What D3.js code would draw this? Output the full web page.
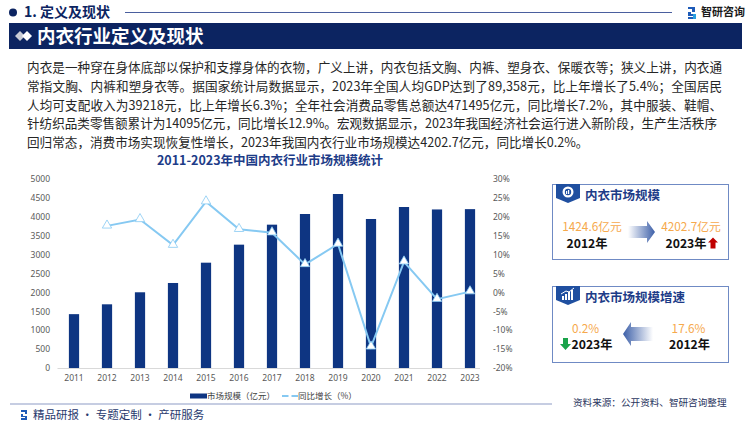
<!DOCTYPE html>
<html><head><meta charset="utf-8">
<script src="https://cdn.jsdelivr.net/npm/d3@7/dist/d3.min.js"></script>
<style>
html,body{margin:0;padding:0;background:#fff;}
svg{display:block;font-family:"Noto Sans CJK SC","Noto Sans",sans-serif;}
</style></head>
<body>
<svg id="c" width="750" height="422"></svg>
<script>
const years = ["2011","2012","2013","2014","2015","2016","2017","2018","2019","2020","2021","2022","2023"];
const marketSize = [1424.6,1685,2003,2249,2786,3263,3792,4074,4603,3942,4259,4194.3,4202.7];
const growthYears = ["2012","2013","2014","2015","2016","2017","2018","2019","2020","2021","2022","2023"];
const growth = [17.6,19.3,12.5,24.0,16.7,15.8,7.4,12.8,-14.4,8.1,-1.8,0.2];
const leftTicks = [0,500,1000,1500,2000,2500,3000,3500,4000,4500,5000];
const rightTicks = [-20,-15,-10,-5,0,5,10,15,20,25,30];
const paragraph = [
 "内衣是一种穿在身体底部以保护和支撑身体的衣物，广义上讲，内衣包括文胸、内裤、塑身衣、保暖衣等；狭义上讲，内衣通",
 "常指文胸、内裤和塑身衣等。据国家统计局数据显示，2023年全国人均GDP达到了89,358元，比上年增长了5.4%；全国居民",
 "人均可支配收入为39218元，比上年增长6.3%；全年社会消费品零售总额达471495亿元，同比增长7.2%，其中服装、鞋帽、",
 "针纺织品类零售额累计为14095亿元，同比增长12.9%。宏观数据显示，2023年我国经济社会运行进入新阶段，生产生活秩序",
 "回归常态，消费市场实现恢复性增长，2023年我国内衣行业市场规模达4202.7亿元，同比增长0.2%。"
];
const chartTitle = "2011-2023年中国内衣行业市场规模统计";
const legendLabels = ["市场规模（亿元）","同比增长（%）"];

const svg = d3.select("#c");
const NAVY = "#0c2461", BAR = "#0e3582", LINE = "#86c9f2";

// defs
const defs = svg.append("defs");
const gR = defs.append("linearGradient").attr("id","gR").attr("x1","0").attr("x2","1").attr("y1","0").attr("y2","0");
gR.append("stop").attr("offset","0").attr("stop-color","#3c5fa8").attr("stop-opacity",0);
gR.append("stop").attr("offset","1").attr("stop-color","#3c5fa8").attr("stop-opacity",1);
const gL = defs.append("linearGradient").attr("id","gL").attr("x1","1").attr("x2","0").attr("y1","0").attr("y2","0");
gL.append("stop").attr("offset","0").attr("stop-color","#3c5fa8").attr("stop-opacity",0);
gL.append("stop").attr("offset","1").attr("stop-color","#3c5fa8").attr("stop-opacity",1);

// Header
svg.append("circle").attr("cx",13).attr("cy",12.5).attr("r",4).attr("fill",NAVY);
svg.append("text").attr("x",24).attr("y",12.5).attr("dy","0.35em").attr("font-size",14).attr("font-weight","bold").attr("fill",NAVY).text("1. 定义及现状");
svg.append("line").attr("x1",125).attr("x2",672).attr("y1",12.5).attr("y2",12.5).attr("stroke","#4a5f9e").attr("stroke-width",1);
// logo
svg.append("path").attr("d","M688,7 h7 v5 h-4 v2 h4 v5 h-7 v-2 h5 v-1 h-5 v-4 h4 v-3 h-4 z").attr("fill","#1e5bb8");
svg.append("rect").attr("x",693).attr("y",14).attr("width",3).attr("height",5).attr("fill","#2aa0e0");
svg.append("text").attr("x",701).attr("y",12.5).attr("dy","0.35em").attr("font-size",11).attr("font-weight","bold").attr("fill","#1a1a1a").text("智研咨询");

// Banner
svg.append("rect").attr("x",9).attr("y",23).attr("width",733).attr("height",26).attr("fill",NAVY);
svg.append("path").attr("d","M20,31 L25,36 L20,41 L15,36 Z").attr("fill","#c8ccd6");
svg.append("path").attr("d","M27,31 L32,36 L27,41 L22,36 Z").attr("fill","#ffffff");
svg.append("text").attr("x",37).attr("y",36).attr("dy","0.36em").attr("font-size",18.5).attr("font-weight","bold").attr("fill","#fff").text("内衣行业定义及现状");

// Paragraph
const lineY = [67,86,105,123.5,142];
const lens = [695,695,695,690,null];
paragraph.forEach((t,i)=>{
  const el = svg.append("text").attr("x",27).attr("y",lineY[i]).attr("dy","0.36em")
    .attr("font-size",12.6).attr("fill","#262626").text(t);
  if(lens[i]) el.attr("textLength",lens[i]).attr("lengthAdjust","spacing");
});

// Chart title
svg.append("text").attr("x",270).attr("y",160.5).attr("dy","0.36em").attr("text-anchor","middle")
  .attr("font-size",12.5).attr("font-weight","bold").attr("fill","#1d3c88").text(chartTitle);

// Scales
const x = d3.scaleBand().domain(years).range([57.5,486.5]).paddingInner(0.69).paddingOuter(0.345);
const yL = d3.scaleLinear().domain([0,5000]).range([368,179]);
const yR = d3.scaleLinear().domain([-20,30]).range([368,179]);

// Axes
const axL = svg.append("g").attr("transform","translate(52,0)")
  .call(d3.axisLeft(yL).tickValues(leftTicks).tickSize(0).tickPadding(2).tickFormat(d=>d));
axL.select(".domain").remove();
axL.selectAll("text").attr("font-size",8.5).attr("fill","#595959").attr("font-family","'Noto Sans','Liberation Sans',sans-serif");

const axR = svg.append("g").attr("transform","translate(491,0)")
  .call(d3.axisRight(yR).tickValues(rightTicks).tickSize(0).tickPadding(2).tickFormat(d=>d+"%"));
axR.select(".domain").remove();
axR.selectAll("text").attr("font-size",8.5).attr("fill","#595959").attr("font-family","'Noto Sans','Liberation Sans',sans-serif");

const axB = svg.append("g").attr("transform","translate(0,368)")
  .call(d3.axisBottom(x).tickSize(0).tickPadding(7));
axB.select(".domain").attr("stroke","#d9d9d9").attr("d","M57.5,0.5H480");
axB.selectAll("text").attr("font-size",8.5).attr("fill","#595959").attr("font-family","'Noto Sans','Liberation Sans',sans-serif");

// Bars
svg.append("g").selectAll("rect").data(years).join("rect")
  .attr("x",d=>x(d)).attr("width",x.bandwidth())
  .attr("y",(d,i)=>yL(marketSize[i])).attr("height",(d,i)=>yL(0)-yL(marketSize[i]))
  .attr("fill",BAR);

// Line
const cx = d=>x(d)+x.bandwidth()/2;
const lineGen = d3.line().x((d,i)=>cx(growthYears[i])).y(d=>yR(d));
svg.append("path").datum(growth).attr("d",lineGen).attr("fill","none").attr("stroke",LINE).attr("stroke-width",2);
const tri = d3.symbol().type(d3.symbolTriangle).size(38);
svg.append("g").selectAll("path").data(growth).join("path")
  .attr("d",tri).attr("transform",(d,i)=>`translate(${cx(growthYears[i])},${yR(d)-0.5})`)
  .attr("fill","#fff").attr("stroke",LINE).attr("stroke-width",0.8);

// Legend
svg.append("rect").attr("x",190).attr("y",393.5).attr("width",17).attr("height",5).attr("fill",BAR);
svg.append("text").attr("x",207).attr("y",396).attr("dy","0.36em").attr("font-size",8.5).attr("fill","#404040").text(legendLabels[0]);
svg.append("line").attr("x1",282).attr("x2",298).attr("y1",396).attr("y2",396).attr("stroke",LINE).attr("stroke-width",2).attr("stroke-dasharray","6.5,3");
svg.append("text").attr("x",298).attr("y",396).attr("dy","0.36em").attr("font-size",8.5).attr("fill","#404040").text(legendLabels[1]);

// Footer
svg.append("line").attr("x1",10).attr("x2",552).attr("y1",404).attr("y2",404).attr("stroke","#8d9cc6").attr("stroke-width",1.2);
svg.append("path").attr("d","M21,410 h6 v4 h-4 v2 h4 v4 h-6 v-2 h4 v-1 h-4 v-3 h4 v-2 h-4 z").attr("fill","#1e5bb8");
svg.append("text").attr("x",33).attr("y",415).attr("dy","0.36em").attr("font-size",11.5).attr("fill","#2a3a6e").text("精品研报 · 专题定制 · 产研服务");
svg.append("text").attr("x",573).attr("y",403).attr("dy","0.36em").attr("font-size",9.6).attr("fill","#2a3560").text("资料来源：公开资料、智研咨询整理");

// Panels
function panel(y0,h,title,iconType){
  svg.append("rect").attr("x",552.5).attr("y",y0+0.5).attr("width",176).attr("height",h).attr("fill","#fff").attr("stroke","#6f8ac4").attr("stroke-width",1);
  svg.append("path").attr("d",`M556,${y0} H580 V${y0+14} L568,${y0+19} L556,${y0+14} Z`).attr("fill","#1f4fa0");
  if(iconType===1){
    svg.append("circle").attr("cx",568).attr("cy",y0+8).attr("r",5.5).attr("fill","#fff");
    svg.append("circle").attr("cx",568).attr("cy",y0+8).attr("r",3.2).attr("fill","#1f4fa0");
    svg.append("rect").attr("x",566).attr("y",y0+7).attr("width",1.2).attr("height",3).attr("fill","#fff");
    svg.append("rect").attr("x",568).attr("y",y0+6).attr("width",1.2).attr("height",4).attr("fill","#fff");
  } else {
    [[562,4],[565,6],[568,8],[571,10]].forEach(([bx,bh])=>{
      svg.append("rect").attr("x",bx).attr("y",y0+14-bh).attr("width",2).attr("height",bh).attr("fill","#fff");
    });
    svg.append("path").attr("d",`M561,${y0+8} L566,${y0+5} L569,${y0+6} L574,${y0+2}`).attr("fill","none").attr("stroke","#fff").attr("stroke-width",1);
  }
  svg.append("text").attr("x",585).attr("y",y0+11).attr("dy","0.36em").attr("font-size",12.5).attr("font-weight","bold").attr("fill","#1d3c88").text(title);
}
panel(184,75,"内衣市场规模",1);
panel(286,76,"内衣市场规模增速",2);

const ORANGE = "#f6a94c";
const VFS = 11.8, YFS = 12.2;
// Panel 1 contents
svg.append("text").attr("x",592).attr("y",227).attr("dy","0.36em").attr("text-anchor","middle").attr("font-size",VFS).attr("fill",ORANGE).text("1424.6亿元");
svg.append("text").attr("x",587).attr("y",244).attr("dy","0.36em").attr("text-anchor","middle").attr("font-size",YFS).attr("font-weight","bold").attr("fill","#111").text("2012年");
svg.append("path").attr("d","M628,226 H647 V221 L655,232 L647,243 V238 H628 Z").attr("fill","url(#gR)");
svg.append("text").attr("x",691).attr("y",227).attr("dy","0.36em").attr("text-anchor","middle").attr("font-size",VFS).attr("fill",ORANGE).text("4202.7亿元");
svg.append("text").attr("x",686).attr("y",244).attr("dy","0.36em").attr("text-anchor","middle").attr("font-size",YFS).attr("font-weight","bold").attr("fill","#111").text("2023年");
svg.append("path").attr("d","M713,237.5 L718,242.5 H715.5 V248.5 H710.5 V242.5 H708 Z").attr("fill","#c00000");

// Panel 2 contents
svg.append("text").attr("x",585.5).attr("y",329).attr("dy","0.36em").attr("text-anchor","middle").attr("font-size",VFS).attr("fill",ORANGE).text("0.2%");
svg.append("path").attr("d","M565.5,350 L571,344 H568 V338 H563 V344 H560 Z").attr("fill","#1aa34a");
svg.append("text").attr("x",592).attr("y",345).attr("dy","0.36em").attr("text-anchor","middle").attr("font-size",YFS).attr("font-weight","bold").attr("fill","#111").text("2023年");
svg.append("path").attr("d","M653,327 H631 V322 L623,334 L631,346 V341 H653 Z").attr("fill","url(#gL)");
svg.append("text").attr("x",688.5).attr("y",329).attr("dy","0.36em").attr("text-anchor","middle").attr("font-size",VFS).attr("fill",ORANGE).text("17.6%");
svg.append("text").attr("x",689.5).attr("y",345).attr("dy","0.36em").attr("text-anchor","middle").attr("font-size",YFS).attr("font-weight","bold").attr("fill","#111").text("2012年");
</script>
</body></html>
